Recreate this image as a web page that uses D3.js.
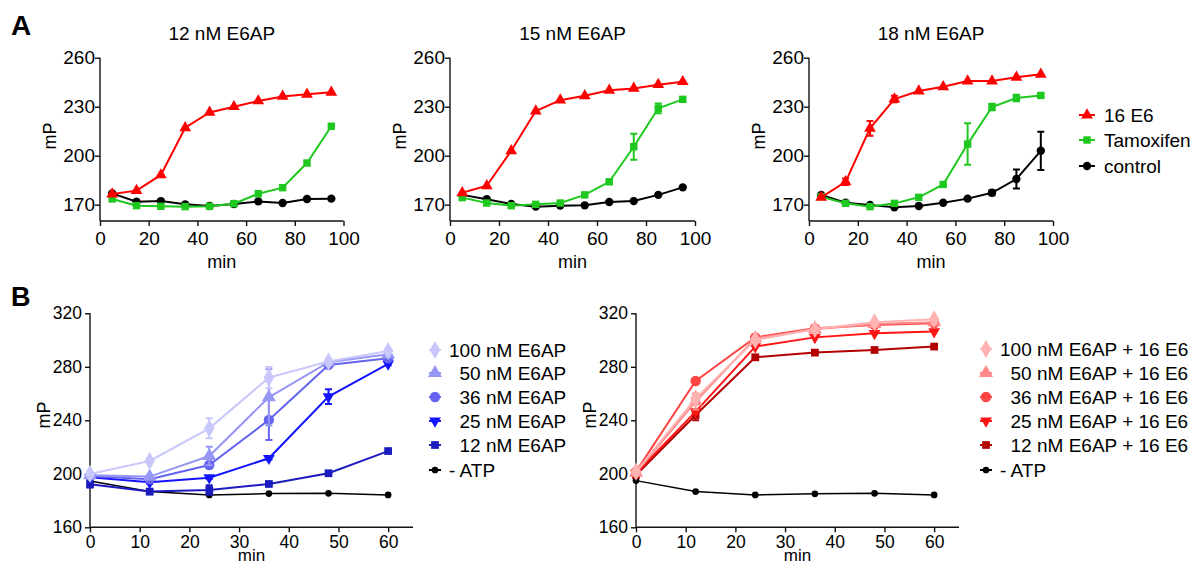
<!DOCTYPE html>
<html><head><meta charset="utf-8">
<script src="https://cdn.jsdelivr.net/npm/d3@7"></script>
<style>
body{margin:0;background:#fff}
svg text{font-family:"Liberation Sans",Arial,Helvetica,sans-serif;fill:#000}
</style>
</head><body>
<svg id="chart" width="1198" height="564"></svg>
<script>
// ---------- DATA ----------
const timeA = [5,15,25,35,45,55,65,75,85,95];
const titlesA = ["12 nM E6AP","15 nM E6AP","18 nM E6AP"];
const namesA = ["16 E6","Tamoxifen","control"];
const xTicksA = [0,20,40,60,80,100];
const yTicksA = [170,200,230,260];

const a12_e6   = [176.5,178.6,188.2,217.1,226.5,230.0,233.5,236.3,237.6,238.8];
const a12_tam  = [173.5,169.4,169.0,168.8,169.0,170.6,176.7,180.4,195.5,218.0];
const a12_ctrl = [176.9,171.8,172.2,170.2,169.2,170.4,172.0,171.0,173.5,173.7];

const a15_e6   = [177.3,181.6,203.0,227.3,234.0,236.7,240.0,241.2,243.5,245.3];
const a15_tam  = [174.3,171.0,169.4,170.2,171.0,176.0,184.0,205.5,229.0,234.5];
const a15_tam_err = [0,0,0,0,0,0,1,8,3,1];
const a15_ctrl = [176.0,173.3,170.4,168.8,169.4,169.6,171.6,172.2,176.0,180.6];

const a18_e6   = [174.5,184.0,216.7,234.7,239.6,242.2,245.7,245.7,248.0,249.8];
const a18_e6_err = [0,2,4.5,2,0,0,0,0,0,0];
const a18_tam  = [174.9,170.8,168.8,170.8,174.5,182.4,207.1,229.8,235.3,236.9];
const a18_tam_err = [0,0,0,0,0,0,12.7,2,2,1];
const a18_ctrl = [176.0,171.2,169.8,168.4,169.2,171.2,173.7,177.3,185.7,203.0];
const a18_ctrl_err = [0,0,0,0,0,0,0,1.5,5.8,11.7];

const timeB = [0,12,24,36,48,60];
const xTicksB = [0,10,20,30,40,50,60];
const yTicksB = [160,200,240,280,320];
const namesB1 = ["100 nM E6AP","  50 nM E6AP","  36 nM E6AP","  25 nM E6AP","  12 nM E6AP","- ATP"];
const b1_100 = [199.9,209.6,234.0,271.9,283.9,291.8];
const b1_100_err = [1,0,7.5,8,2,1];
const b1_50  = [198.9,197.9,213.3,257.2,283.4,289.3];
const b1_50_err = [1,1,7,21,2,1];
const b1_36  = [198.4,195.9,206.6,240.3,281.4,286.4];
const b1_36_err = [1,1,2,15,2,1];
const b1_25  = [197.4,193.6,197.1,211.6,257.7,282.1];
const b1_25_err = [1,1,1,1,5.5,1];
const b1_12  = [192.2,186.7,187.9,192.4,200.4,217.0];
const b1_12_err = [2.5,2,3.5,1,1,1];
const b1_atp = [194.6,186.7,184.2,185.2,185.4,184.2];

const namesB2 = ["100 nM E6AP + 16 E6","  50 nM E6AP + 16 E6","  36 nM E6AP + 16 E6","  25 nM E6AP + 16 E6","  12 nM E6AP + 16 E6","- ATP"];
const b2_100 = [201.6,256.4,300.1,308.3,313.3,315.5];
const b2_50  = [200.9,254.0,301.3,308.0,312.0,313.3];
const b2_50_err = [1,6,1,1,1,1];
const b2_36  = [201.6,269.4,302.0,308.8,311.3,312.5];
const b2_25  = [200.4,246.5,295.1,302.0,305.0,306.3];
const b2_12  = [199.1,244.0,287.1,290.6,292.6,295.1];
const b2_12_err = [1,4,1,1,1,1];
const b2_atp = [194.9,186.7,184.2,185.0,185.4,184.2];

// ---------- DRAWING ----------
const svg = d3.select("#chart");
const zeros = n => new Array(n).fill(0);

function symbolPath(type, size){
  if(type === "down") return d3.symbol(d3.symbolTriangle, size)();
  const t = {triangle:d3.symbolTriangle, square:d3.symbolSquare, circle:d3.symbolCircle, diamond:d3.symbolDiamond}[type];
  return d3.symbol(t, size)();
}
function addMarker(g, type, size, color, x, y){
  return g.append("path").attr("d", symbolPath(type,size)).attr("fill", color)
    .attr("transform", `translate(${x},${y})` + (type==="down" ? " rotate(180)" : ""));
}

function panel(cfg){
  const g = svg.append("g");
  const x = d3.scaleLinear().domain(cfg.xDomain).range(cfg.xRange);
  const y = d3.scaleLinear().domain(cfg.yDomain).range(cfg.yRange);
  const xa = g.append("g").attr("transform",`translate(0,${cfg.yRange[0]})`)
    .call(d3.axisBottom(x).tickValues(cfg.xTicks).tickSize(5).tickPadding(cfg.xPad).tickSizeOuter(0));
  const ya = g.append("g").attr("transform",`translate(${cfg.xRange[0]},0)`)
    .call(d3.axisLeft(y).tickValues(cfg.yTicks).tickSize(5).tickPadding(cfg.yPad).tickSizeOuter(0));
  [xa,ya].forEach(a=>{
    a.selectAll("path,line").attr("stroke","#111").attr("stroke-width",1.4);
    a.selectAll("text").style("font-size",cfg.tickFont+"px").attr("fill","#000");
  });
  xa.select(".domain").attr("d",`M${cfg.xRange[0]},0H${cfg.xRange[1]}`);
  ya.select(".domain").attr("d",`M0,${cfg.yRange[0]}V${cfg.yRange[1]}`);

  const line = d3.line().x((d,i)=>x(cfg.xs[i])).y(d=>y(d));
  cfg.series.slice().reverse().forEach(s=>{
    const sg = g.append("g");
    sg.append("path").attr("d", line(s.values)).attr("fill","none")
      .attr("stroke", s.color).attr("stroke-width", s.lw || 2);
    const err = s.err || zeros(s.values.length);
    s.values.forEach((v,i)=>{
      if(err[i] > 0){
        const cx = x(cfg.xs[i]), y1 = y(v+err[i]), y2 = y(v-err[i]);
        sg.append("path").attr("d",`M${cx},${y1}V${y2}M${cx-3.5},${y1}H${cx+3.5}M${cx-3.5},${y2}H${cx+3.5}`)
          .attr("stroke", s.color).attr("stroke-width",2).attr("fill","none");
      }
    });
    s.values.forEach((v,i)=> addMarker(sg, s.symbol, s.size, s.color, x(cfg.xs[i]), y(v)));
  });

  const mid = (cfg.xRange[0]+cfg.xRange[1])/2;
  if(cfg.title) g.append("text").attr("x",mid).attr("y",cfg.titleY).attr("text-anchor","middle")
    .style("font-size","19px").text(cfg.title);
  g.append("text").attr("x",mid).attr("y",cfg.minY).attr("text-anchor","middle")
    .style("font-size",cfg.minFont+"px").text("min");
  g.append("text").attr("transform",`translate(${cfg.xRange[0]+cfg.mpOff},${cfg.mpY}) rotate(-90)`)
    .attr("text-anchor","middle").style("font-size",cfg.labelFont+"px").text("mP");

  if(cfg.legend){
    const L = cfg.legend;
    cfg.series.forEach((s,i)=>{
      const cy = L.rows[i];
      g.append("line").attr("x1",L.mx-L.lineHalf).attr("x2",L.mx+L.lineHalf).attr("y1",cy).attr("y2",cy)
        .attr("stroke",s.color).attr("stroke-width",2);
      addMarker(g, s.symbol, s.size, s.color, L.mx, cy);
      g.append("text").attr("x",L.tx).attr("y",cy+L.dy).style("font-size",L.font+"px")
        .style("white-space","pre").attr("xml:space","preserve").text(s.name);
    });
  }
}

const red = "#ff0000", green = "#1ec81e", black = "#000000";
function seriesA(e6, tam, ctrl, e6err, tamerr, ctrlerr){
  return [
    {name:namesA[0], values:e6, err:e6err, color:red, symbol:"triangle", size:60},
    {name:namesA[1], values:tam, err:tamerr, color:green, symbol:"square", size:55},
    {name:namesA[2], values:ctrl, err:ctrlerr, color:black, symbol:"circle", size:55}
  ];
}
const commonA = {xs:timeA, xDomain:[0,100], yDomain:[160,260], yRange:[221,57.7],
  xTicks:xTicksA, yTicks:yTicksA, tickFont:19, xPad:6, yPad:0, labelFont:18, minFont:18,
  titleY:40, minY:268, mpOff:-44, mpY:136};
panel(Object.assign({}, commonA, {xRange:[100,343.5], title:titlesA[0],
  series:seriesA(a12_e6,a12_tam,a12_ctrl)}));
panel(Object.assign({}, commonA, {xRange:[450,695], title:titlesA[1],
  series:seriesA(a15_e6,a15_tam,a15_ctrl,null,a15_tam_err,null)}));
panel(Object.assign({}, commonA, {xRange:[809,1053], title:titlesA[2],
  series:seriesA(a18_e6,a18_tam,a18_ctrl,a18_e6_err,a18_tam_err,a18_ctrl_err),
  legend:{mx:1087, lineHalf:8, tx:1104, rows:[115,140,166], dy:7, font:19}}));

const blues = ["#c8c8fc","#9696f5","#6464f0","#1414ff","#1c1cbe"];
const reds  = ["#ffb2b2","#ff8888","#ff4444","#ff1414","#b40000"];
const symsB = ["diamond","triangle","circle","down","square","circle"];
const sizesB = [95,85,85,60,60,35];
function seriesB(names, cols, vals, errs){
  return vals.map((v,i)=>({name:names[i], values:v, err:errs[i],
    color: i<5 ? cols[i] : black, symbol:symsB[i], size:sizesB[i], lw: i<5 ? 2 : 1.5}));
}
const commonB = {xs:timeB, xDomain:[0,65], yDomain:[160,320], yRange:[527.3,313.3],
  xTicks:xTicksB, yTicks:yTicksB, tickFont:17.5, xPad:3, yPad:3, labelFont:18, minFont:17,
  minY:561, mpOff:-40, mpY:415};
panel(Object.assign({}, commonB, {xRange:[90,413],
  series:seriesB(namesB1, blues, [b1_100,b1_50,b1_36,b1_25,b1_12,b1_atp],
    [b1_100_err,b1_50_err,b1_36_err,b1_25_err,b1_12_err,null]),
  legend:{mx:435, lineHalf:6, tx:449, rows:[350,373,397,421,445,470], dy:7, font:19}}));
panel(Object.assign({}, commonB, {xRange:[636,959],
  series:seriesB(namesB2, reds, [b2_100,b2_50,b2_36,b2_25,b2_12,b2_atp],
    [null,b2_50_err,null,null,b2_12_err,null]),
  legend:{mx:986, lineHalf:6, tx:1000, rows:[349,373,397,421,445,470], dy:7, font:19}}));

svg.append("text").attr("x",11).attr("y",35).style("font-size","28px").style("font-weight","bold").text("A");
svg.append("text").attr("x",11).attr("y",306).style("font-size","27px").style("font-weight","bold").text("B");
</script>
</body></html>
